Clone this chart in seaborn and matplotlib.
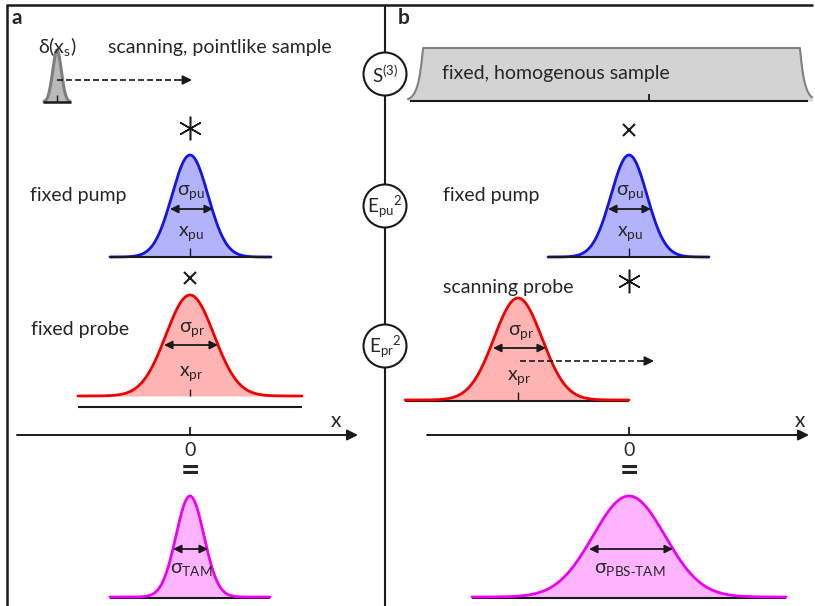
import numpy as np
import matplotlib
matplotlib.use("Agg")
import matplotlib.pyplot as plt
import seaborn as sns
from matplotlib.patches import Circle

sns.set_theme(style="white")
plt.rcParams["font.family"] = ["Lato", "DejaVu Sans"]
plt.rcParams["mathtext.default"] = "regular"

# Gaussian profiles (drawing units = pixels, y grows downwards)
profile_names = ["delta", "pump_a", "probe_a", "tam", "pump_b", "probe_b", "pbs_tam"]
centres = [57, 190, 190, 190, 629, 518, 629]
sigmas = [4.3, 18, 24, 14, 18, 24, 36]
heights = [52, 102, 101, 101, 102, 102, 101]
baselines = [102, 257, 396, 597, 257, 400, 597]
x_starts = [44, 110, 78, 110, 548, 405, 472]
x_ends = [70, 271, 302, 270, 709, 629, 786]
line_colors = ["#7f7f7f", "#1414e6", "#f00000", "#f000f0", "#1414e6", "#f00000", "#f000f0"]
fill_colors = ["#b9b9b9", "#b3b3fb", "#ffb4b4", "#ffb4ff", "#b3b3fb", "#ffb4b4", "#ffb4ff"]

# flat-top homogeneous sample in panel b: plateau with exponential feet
sample_centre = 611.5
sample_plateau_half = 188.5
sample_edge_decay = 4.5
sample_height = 53
sample_base = 101
sample_range = (408, 812)

TEXT = 14
SMALL_LW = 1.3

fig = plt.figure(figsize=(8.15, 6.06), dpi=100)
ax = fig.add_axes([0, 0, 1, 1])


def seg(x0, x1, y0, y1, lw=SMALL_LW, color="k", **kw):
    ax.plot([x0, x1], [y0, y1], color=color, lw=lw, solid_capstyle="butt", **kw)


def arrow(x0, x1, y, style="-|>", lw=SMALL_LW, scale=14):
    ax.annotate("", xy=(x1, y), xytext=(x0, y),
                arrowprops=dict(arrowstyle=style, color="k", lw=lw,
                                mutation_scale=scale, shrinkA=0, shrinkB=0))


def dashed_arrow(x0, x1, y):
    seg(x0, x1 - 8, y, y, lw=1.2, linestyle=(0, (3.6, 1.8)))
    arrow(x1 - 12, x1, y, lw=1.2, scale=14)


# sample flat-top
xs = np.linspace(*sample_range, 800)
excess = np.clip(np.abs(xs - sample_centre) - sample_plateau_half, 0, None)
ys = sample_base - sample_height * np.exp(-excess / sample_edge_decay)
ax.fill_between(xs, ys, sample_base, color="#d3d3d3", lw=0)
sns.lineplot(x=xs, y=ys, ax=ax, color="#808080", lw=1.5, legend=False)
seg(410, 808, sample_base, sample_base, lw=1.5)
seg(649, 649, sample_base - 7, sample_base)

# gaussian profiles
for name, c, s, h, b, x0, x1, lc, fc in zip(profile_names, centres, sigmas, heights,
                                             baselines, x_starts, x_ends, line_colors, fill_colors):
    xs = np.linspace(x0, x1, 400)
    ys = b - h * np.exp(-0.5 * ((xs - c) / s) ** 2)
    ax.fill_between(xs, ys, b, color=fc, lw=0)
    if name in ("pump_a", "pump_b"):
        sns.lineplot(x=xs, y=ys, ax=ax, color=lc, lw=2.0, legend=False)
        seg(x0, x1, b, b, lw=1.5)
    elif name == "delta":
        sns.lineplot(x=xs, y=ys, ax=ax, color=lc, lw=2.2, legend=False)
        seg(x0 - 1, x1 + 1, b, b, lw=1.8)
    else:
        if name != "probe_a":
            seg(x0, x1, b + 1, b + 1, lw=1.5)
        sns.lineplot(x=xs, y=ys, ax=ax, color=lc, lw=2.0, legend=False)

# centre ticks on profiles
seg(57, 57, 95, 102, lw=1.0)
seg(190, 190, 248, 257, lw=1.0)
seg(629, 629, 248, 257, lw=1.0)
seg(190, 190, 389, 396, lw=1.0)
seg(518, 518, 392, 400, lw=1.0)

# separate baseline under the fixed probe
seg(78, 302, 407, 407, lw=1.5)

# frame and panel divider
seg(7, 7, 5, 606, lw=1.8)
seg(6, 813, 5, 5, lw=1.8)
seg(385, 385, 5, 606, lw=1.5)

# operator circles on the divider
circle_y = [74, 206, 346]
circle_labels = ["S$^{(3)}$", "E$_{pu}$$^{2}$", "E$_{pr}$$^{2}$"]
for cy, lab in zip(circle_y, circle_labels):
    ax.add_patch(Circle((385, cy), 21.5, facecolor="white", edgecolor="k", lw=1.5, zorder=5))
    ax.text(385, cy + 1, lab, ha="center", va="center", fontsize=TEXT - 0.5, zorder=6)

# position axes
arrow(17, 358, 435, lw=1.4, scale=16)
arrow(427, 809, 435, lw=1.4, scale=16)
seg(190, 190, 427, 435)
seg(629, 629, 427, 435)
for x0 in (190, 629):
    ax.text(x0, 450, "0", ha="center", va="center", fontsize=TEXT)
ax.text(336, 421, "x", ha="center", va="center", fontsize=TEXT + 1)
ax.text(800, 421, "x", ha="center", va="center", fontsize=TEXT + 1)

# width arrows
arrow(170, 213, 209, style="<|-|>", scale=12)
arrow(608, 651, 209, style="<|-|>", scale=12)
arrow(164, 218, 345, style="<|-|>", scale=12)
arrow(493, 546, 348, style="<|-|>", scale=12)
arrow(173, 208, 549, style="<|-|>", scale=12)
arrow(589, 673, 549, style="<|-|>", scale=12)

# scanning arrows
dashed_arrow(57, 192, 80)
dashed_arrow(520, 654, 361)

# operation symbols
ax.plot([190], [128], marker=(6, 2, 0), ms=17, mew=1.1, color="k")
ax.plot([629], [281], marker=(6, 2, 0), ms=17, mew=1.1, color="k")
ax.plot([629], [130], marker="x", ms=9, mew=1.5, color="k")
ax.plot([190], [278], marker="x", ms=9, mew=1.5, color="k")
for x0 in (190, 629):
    ax.text(x0, 472, "=", ha="center", va="center", fontsize=24, fontweight="bold")

# labels
ax.text(11, 18, "a", ha="left", va="center", fontsize=15, fontweight="bold")
ax.text(398, 18, "b", ha="left", va="center", fontsize=15, fontweight="bold")
ax.text(38, 46, "δ(x$_s$)", ha="left", va="center", fontsize=TEXT)
ax.text(108, 47, "scanning, pointlike sample", ha="left", va="center", fontsize=TEXT)
ax.text(442, 74, "fixed, homogenous sample", ha="left", va="center", fontsize=TEXT)
ax.text(30, 195, "fixed pump", ha="left", va="center", fontsize=TEXT)
ax.text(443, 195, "fixed pump", ha="left", va="center", fontsize=TEXT)
ax.text(31, 330, "fixed probe", ha="left", va="center", fontsize=TEXT)
ax.text(443, 287, "scanning probe", ha="left", va="center", fontsize=TEXT)

ax.text(191, 193, "σ$_{pu}$", ha="center", va="center", fontsize=TEXT)
ax.text(630, 193, "σ$_{pu}$", ha="center", va="center", fontsize=TEXT)
ax.text(191, 234, "x$_{pu}$", ha="center", va="center", fontsize=TEXT)
ax.text(630, 234, "x$_{pu}$", ha="center", va="center", fontsize=TEXT)
ax.text(192, 330, "σ$_{pr}$", ha="center", va="center", fontsize=TEXT)
ax.text(521, 333, "σ$_{pr}$", ha="center", va="center", fontsize=TEXT)
ax.text(191, 374, "x$_{pr}$", ha="center", va="center", fontsize=TEXT)
ax.text(519, 378, "x$_{pr}$", ha="center", va="center", fontsize=TEXT)
ax.text(191, 569, "σ$_{TAM}$", ha="center", va="center", fontsize=TEXT)
ax.text(630, 569, "σ$_{PBS\u2011TAM}$", ha="center", va="center", fontsize=TEXT)

ax.set_xlim(0, 815)
ax.set_ylim(606, 0)
ax.set_axis_off()
fig.savefig("out.png", dpi=100, facecolor="white")
